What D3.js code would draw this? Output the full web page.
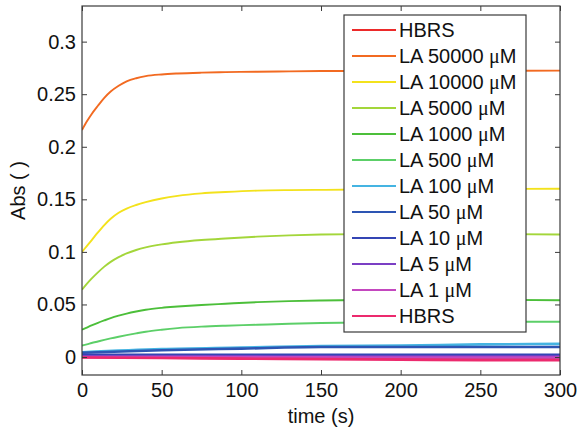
<!DOCTYPE html>
<html>
<head>
<meta charset="utf-8">
<script src="https://cdn.jsdelivr.net/npm/d3@7"></script>
<style>
  html, body { margin: 0; padding: 0; background: #fff; }
  svg { display: block; }
  text { font-family: "Liberation Sans", Arial, Helvetica, sans-serif; fill: #111; }
</style>
</head>
<body>
<div id="chart"></div>
<script>
// Absorbance over time for increasing LA concentrations
const seriesNames = ["HBRS", "LA 50000", "LA 10000", "LA 5000", "LA 1000", "LA 500",
                     "LA 100", "LA 50", "LA 10", "LA 5", "LA 1", "HBRS"];
const seriesUnits = ["", "\u03bcM", "\u03bcM", "\u03bcM", "\u03bcM", "\u03bcM",
                     "\u03bcM", "\u03bcM", "\u03bcM", "\u03bcM", "\u03bcM", ""];
const seriesColors = ["#ec2a2a", "#f26a21", "#f3e21c", "#a3d63a", "#4cbf3a", "#5ccf68",
                      "#45b4e2", "#2d55b3", "#3445b4", "#7b3fc4", "#c447bf", "#ec2a6e"];

// sampling times (s)
const timeFast = [0, 3, 6, 10, 14, 18, 23, 28, 34, 40, 50, 60, 75, 90, 110, 130, 150, 175, 200, 250, 300];
const timeSlow = [0, 50, 100, 150, 200, 250, 300];

const hbrsA    = [0.0, -0.0003, -0.0008, -0.0012, -0.0015, -0.0015, -0.0015];
const la50000  = [0.216, 0.224, 0.231, 0.239, 0.2465, 0.2525, 0.258, 0.2622, 0.2652, 0.2672, 0.2688,
                  0.2697, 0.2705, 0.271, 0.2714, 0.2717, 0.272, 0.2721, 0.2722, 0.2723, 0.2724];
const la10000  = [0.100, 0.1055, 0.111, 0.1185, 0.1255, 0.1315, 0.1372, 0.1412, 0.1446, 0.1473, 0.1508,
                  0.1533, 0.1557, 0.157, 0.1583, 0.1588, 0.159, 0.1593, 0.1596, 0.1599, 0.160];
const la5000   = [0.064, 0.0695, 0.0745, 0.0805, 0.086, 0.0905, 0.095, 0.0985, 0.1018, 0.1043, 0.1072,
                  0.1092, 0.1113, 0.1128, 0.1145, 0.1157, 0.1165, 0.1169, 0.117, 0.117, 0.1165];
const la1000   = [0.026, 0.028, 0.030, 0.0325, 0.0348, 0.037, 0.0393, 0.0413, 0.0433, 0.045, 0.0468,
                  0.048, 0.0495, 0.0507, 0.0522, 0.0532, 0.0538, 0.0543, 0.0545, 0.0545, 0.054];
const la500    = [0.011, 0.012, 0.0133, 0.0148, 0.0163, 0.0177, 0.0193, 0.0208, 0.0225, 0.0241, 0.026,
                  0.0275, 0.0289, 0.0298, 0.0307, 0.0316, 0.0323, 0.0328, 0.0332, 0.0335, 0.0336];
const la100    = [0.0045, 0.0075, 0.009, 0.0105, 0.011, 0.012, 0.0125];
const la50     = [0.004, 0.0065, 0.008, 0.0095, 0.0095, 0.0095, 0.0095];
const la10     = [0.002, 0.002, 0.0022, 0.002, 0.002, 0.0022, 0.002];
const la5      = [0.0005, 0.0005, 0.0006, 0.0005, 0.0005, 0.0005, 0.0005];
const la1      = [0.0, 0.0, -0.0002, -0.0003, -0.0005, -0.0005, -0.0005];
const hbrsB    = [-0.0005, -0.001, -0.0015, -0.002, -0.0025, -0.003, -0.003];

const seriesValues = [hbrsA, la50000, la10000, la5000, la1000, la500, la100, la50, la10, la5, la1, hbrsB];
const seriesTimes  = [timeSlow, timeFast, timeFast, timeFast, timeFast, timeFast,
                      timeSlow, timeSlow, timeSlow, timeSlow, timeSlow, timeSlow];

const xTicks = [0, 50, 100, 150, 200, 250, 300];
const yTicks = [0, 0.05, 0.1, 0.15, 0.2, 0.25, 0.3];
const yTickLabels = ["0", "0.05", "0.1", "0.15", "0.2", "0.25", "0.3"];
const xLabel = "time (s)";
const yLabel = "Abs ( )";

const W = 577, H = 431;
const plot = { left: 82, right: 560, top: 6, bottom: 375 };

const svg = d3.select("#chart").append("svg").attr("width", W).attr("height", H);

const x = d3.scaleLinear().domain([0, 300]).range([plot.left, plot.right]);
const y = d3.scaleLinear().domain([-0.0171, 0.3339]).range([plot.bottom, plot.top]);

// clip region for the data lines
svg.append("clipPath").attr("id", "plotClip")
  .append("rect").attr("x", plot.left).attr("y", plot.top)
  .attr("width", plot.right - plot.left).attr("height", plot.bottom - plot.top);

const line = d3.line().x(d => x(d[0])).y(d => y(d[1])).curve(d3.curveMonotoneX);

const lines = svg.append("g").attr("clip-path", "url(#plotClip)");
seriesValues.forEach((vals, i) => {
  const pts = vals.map((v, j) => [seriesTimes[i][j], v]);
  lines.append("path")
    .attr("d", line(pts))
    .attr("fill", "none")
    .attr("stroke", seriesColors[i])
    .attr("stroke-width", i >= 6 || i === 0 ? 2.6 : 1.9);
});

// axes with inward ticks on all four sides
const tickLen = 5;
const axisColor = "#3a3a3a";
const fontSize = 20;

const xb = d3.axisBottom(x).tickValues(xTicks).tickSizeInner(-tickLen).tickSizeOuter(0).tickPadding(8);
const gx = svg.append("g").attr("transform", `translate(0,${plot.bottom})`).call(xb);
gx.select(".domain").remove();
gx.selectAll("line").attr("stroke", axisColor);
gx.selectAll("text").attr("font-size", fontSize).style("font-family", "Liberation Sans, Arial, sans-serif").attr("fill", "#111");

const xt = d3.axisTop(x).tickValues(xTicks).tickSizeInner(-tickLen).tickSizeOuter(0).tickFormat("");
const gxt = svg.append("g").attr("transform", `translate(0,${plot.top})`).call(xt);
gxt.select(".domain").remove();
gxt.selectAll("line").attr("stroke", axisColor);

const yl = d3.axisLeft(y).tickValues(yTicks).tickSizeInner(-tickLen).tickSizeOuter(0).tickPadding(6)
  .tickFormat((d, i) => yTickLabels[i]);
const gy = svg.append("g").attr("transform", `translate(${plot.left},0)`).call(yl);
gy.select(".domain").remove();
gy.selectAll("line").attr("stroke", axisColor);
gy.selectAll("text").attr("font-size", fontSize).style("font-family", "Liberation Sans, Arial, sans-serif").attr("fill", "#111");

const yr = d3.axisRight(y).tickValues(yTicks).tickSizeInner(-tickLen).tickSizeOuter(0).tickFormat("");
const gyr = svg.append("g").attr("transform", `translate(${plot.right},0)`).call(yr);
gyr.select(".domain").remove();
gyr.selectAll("line").attr("stroke", axisColor);

// frame
svg.append("rect")
  .attr("x", plot.left).attr("y", plot.top)
  .attr("width", plot.right - plot.left).attr("height", plot.bottom - plot.top)
  .attr("fill", "none").attr("stroke", axisColor).attr("stroke-width", 1.2);

// axis titles
svg.append("text")
  .attr("x", (plot.left + plot.right) / 2).attr("y", 423)
  .attr("text-anchor", "middle").attr("font-size", fontSize)
  .text(xLabel);

svg.append("text")
  .attr("transform", `translate(25,${(plot.top + plot.bottom) / 2}) rotate(-90)`)
  .attr("text-anchor", "middle").attr("font-size", fontSize)
  .text(yLabel);

// legend
const legend = { left: 344, top: 15, right: 526, bottom: 332, row0: 30, rowStep: 26 };
const lg = svg.append("g");
lg.append("rect")
  .attr("x", legend.left).attr("y", legend.top)
  .attr("width", legend.right - legend.left).attr("height", legend.bottom - legend.top)
  .attr("fill", "#fff").attr("stroke", axisColor).attr("stroke-width", 1.2);

seriesNames.forEach((name, i) => {
  const ry = legend.row0 + i * legend.rowStep;
  lg.append("line")
    .attr("x1", 352).attr("x2", 396).attr("y1", ry).attr("y2", ry)
    .attr("stroke", seriesColors[i]).attr("stroke-width", 2);
  const t = lg.append("text")
    .attr("x", 399).attr("y", ry).attr("dy", "0.36em")
    .attr("font-size", fontSize);
  t.append("tspan").text(name);
  if (seriesUnits[i]) {
    t.append("tspan").text(" ");
    t.append("tspan").style("font-family", "Liberation Serif, Times New Roman, serif").text(seriesUnits[i][0]);
    t.append("tspan").text(seriesUnits[i].slice(1));
  }
});
</script>
</body>
</html>
